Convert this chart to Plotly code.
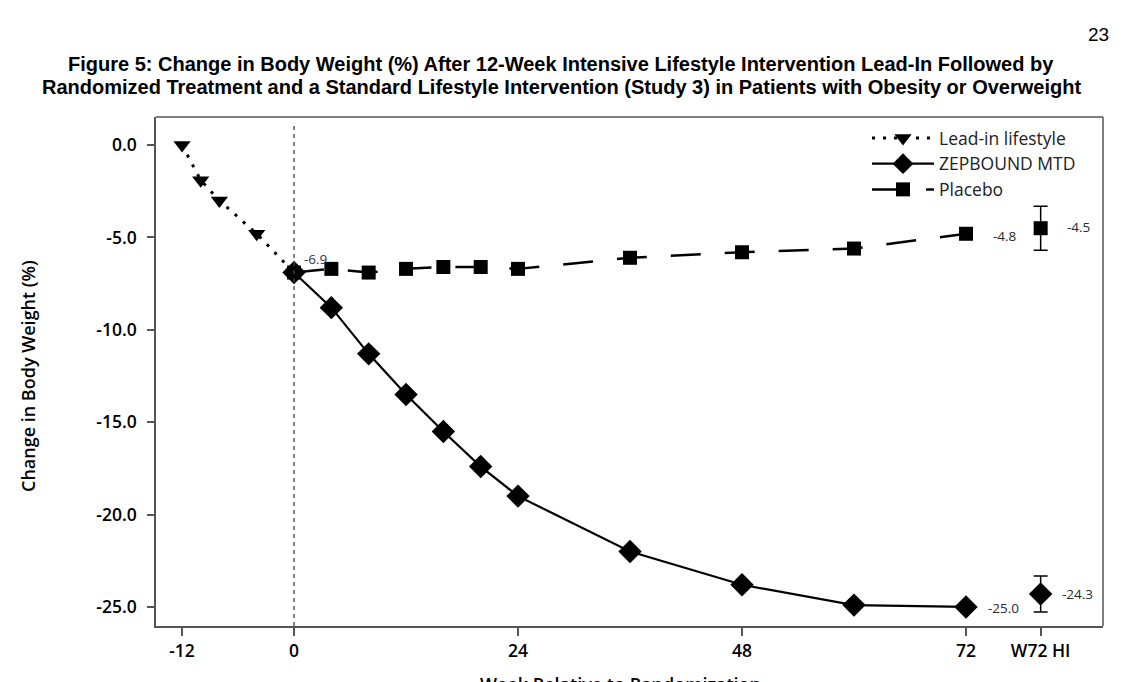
import plotly.graph_objects as go

# ---- data ----
leadin_weeks = [-12, -10, -8, -4, 0]
leadin_vals = [0.0, -1.9, -3.0, -4.8, -6.9]

zep_weeks = [0, 4, 8, 12, 16, 20, 24, 36, 48, 60, 72]
zep_vals = [-6.9, -8.8, -11.3, -13.5, -15.5, -17.4, -19.0, -22.0, -23.8, -24.9, -25.0]

pbo_weeks = [0, 4, 8, 12, 16, 20, 24, 36, 48, 60, 72]
pbo_vals = [-6.9, -6.7, -6.9, -6.7, -6.6, -6.6, -6.7, -6.1, -5.8, -5.6, -4.8]

hi_week = 80
zep_hi = -24.3
zep_hi_err = 0.97
pbo_hi = -4.5
pbo_hi_err = 1.19

xtick_vals = [-12, 0, 24, 48, 72, 80]
xtick_text = ["-12", "0", "24", "48", "72", "W72 HI"]
ytick_vals = [0, -5, -10, -15, -20, -25]
ytick_text = ["0.0", "-5.0", "-10.0", "-15.0", "-20.0", "-25.0"]

title_line1 = "Figure 5: Change in Body Weight (%) After 12-Week Intensive Lifestyle Intervention Lead-In Followed by"
title_line2 = "Randomized Treatment and a Standard Lifestyle Intervention (Study 3) in Patients with Obesity or Overweight"

# ---- geometry (page has an 8px body margin) ----
OFF = 8
W, H = 1147 - OFF, 682 - OFF
L, R, T, B = 156 - OFF, 1103 - OFF, 117 - OFF, 626 - OFF


def px(xp):
    return (xp - OFF - L) / (R - L)


def py(yp):
    return (B - (yp - OFF)) / (B - T)


fig = go.Figure()

fig.add_trace(go.Scatter(
    x=leadin_weeks, y=leadin_vals, mode="lines+markers", name="Lead-in lifestyle",
    line=dict(color="black", width=3, dash="3px,8px"),
    marker=dict(symbol="triangle-down", size=15, color="black"),
))
fig.add_trace(go.Scatter(
    x=zep_weeks, y=zep_vals, mode="lines+markers", name="ZEPBOUND MTD",
    line=dict(color="black", width=2.2),
    marker=dict(symbol="diamond", size=18, color="black"),
))
fig.add_trace(go.Scatter(
    x=pbo_weeks, y=pbo_vals, mode="lines+markers", name="Placebo",
    line=dict(color="black", width=2.5, dash="30px,24px"),
    marker=dict(symbol="square", size=14, color="black"),
))
fig.add_trace(go.Scatter(
    x=[hi_week], y=[zep_hi], mode="markers", showlegend=False,
    marker=dict(symbol="diamond", size=18, color="black"),
    error_y=dict(type="data", array=[zep_hi_err], color="black", thickness=1.5, width=7),
))
fig.add_trace(go.Scatter(
    x=[hi_week], y=[pbo_hi], mode="markers", showlegend=False,
    marker=dict(symbol="square", size=14, color="black"),
    error_y=dict(type="data", array=[pbo_hi_err], color="black", thickness=1.5, width=7),
))

# vertical reference line at randomization
fig.add_shape(type="line", xref="x", yref="paper", x0=0, x1=0, y0=0, y1=py(123),
              line=dict(color="#444", width=1.3, dash="4px,4px"))

lab_font = dict(family="Open Sans", size=13.5, color="#2a2a2a")
fig.add_annotation(x=zep_weeks[0], y=zep_vals[0], text=f"{zep_vals[0]:.1f}", showarrow=False,
                   xanchor="left", yanchor="bottom", xshift=8, yshift=3,
                   font=dict(family="Open Sans", size=13.5, color="#2b3a55"))
fig.add_annotation(x=pbo_weeks[-1], y=pbo_vals[-1], text=f"{pbo_vals[-1]:.1f}", showarrow=False,
                   xanchor="left", yanchor="middle", xshift=25, yshift=-2, font=lab_font)
fig.add_annotation(x=zep_weeks[-1], y=zep_vals[-1], text=f"{zep_vals[-1]:.1f}", showarrow=False,
                   xanchor="left", yanchor="middle", xshift=20, yshift=-1, font=lab_font)
fig.add_annotation(x=hi_week, y=pbo_hi, text=f"{pbo_hi:.1f}", showarrow=False,
                   xanchor="left", yanchor="middle", xshift=24, yshift=1, font=lab_font)
fig.add_annotation(x=hi_week, y=zep_hi, text=f"{zep_hi:.1f}", showarrow=False,
                   xanchor="left", yanchor="middle", xshift=19, yshift=0, font=lab_font)

# title, page number, axis titles
title_font = dict(family="Liberation Sans", size=20, color="black", weight="bold")
fig.add_annotation(xref="paper", yref="paper", x=px(561), y=py(64), text=title_line1,
                   showarrow=False, xanchor="center", yanchor="middle", font=title_font)
fig.add_annotation(xref="paper", yref="paper", x=px(561), y=py(87), text=title_line2,
                   showarrow=False, xanchor="center", yanchor="middle", font=title_font)
fig.add_annotation(xref="paper", yref="paper", x=px(1111), y=py(35), text="23",
                   showarrow=False, xanchor="right", yanchor="middle",
                   font=dict(family="Liberation Sans", size=19, color="black"))
fig.add_annotation(xref="paper", yref="paper", x=px(620), y=py(670), text="Week Relative to Randomization",
                   showarrow=False, xanchor="center", yanchor="top",
                   font=dict(family="Open Sans", size=18, color="black", weight=600))
fig.add_annotation(xref="paper", yref="paper", x=px(28), y=py(376), text="Change in Body Weight (%)",
                   showarrow=False, textangle=-90, xanchor="center", yanchor="middle",
                   font=dict(family="Open Sans", size=18, color="black", weight=600))

tickfont = dict(family="Open Sans", size=17.5, color="black", weight=600)
fig.update_xaxes(range=[-14.79, 86.68], tickvals=xtick_vals, ticktext=xtick_text,
                 showgrid=False, zeroline=False, showline=True, linecolor="#555", linewidth=1.5,
                 ticks="outside", ticklen=8, tickcolor="#555", tickwidth=1.5,
                 tickfont=tickfont)
fig.update_yaxes(range=[-26.03, 1.52], tickvals=ytick_vals, ticktext=ytick_text,
                 showgrid=False, zeroline=False, showline=True, linecolor="#555", linewidth=1.5,
                 ticks="outside", ticklen=7, tickcolor="#555", tickwidth=1.5,
                 ticklabelstandoff=7, tickfont=tickfont)

# top and right border
fig.add_shape(type="line", xref="paper", yref="paper", x0=0, x1=1, y0=1, y1=1,
              line=dict(color="#555", width=1.5))
fig.add_shape(type="line", xref="paper", yref="paper", x0=1, x1=1, y0=0, y1=1,
              line=dict(color="#555", width=1.5))

fig.update_layout(
    width=W, height=H,
    margin=dict(l=L, r=W - R, t=T, b=H - B, autoexpand=False),
    paper_bgcolor="white", plot_bgcolor="white",
    showlegend=True,
    legend=dict(x=px(867), y=py(120), xanchor="left", yanchor="top",
                bgcolor="rgba(0,0,0,0)", itemwidth=62, tracegroupgap=0,
                font=dict(family="Open Sans", size=17.5, color="#222")),
)

fig.write_html("out.html")
